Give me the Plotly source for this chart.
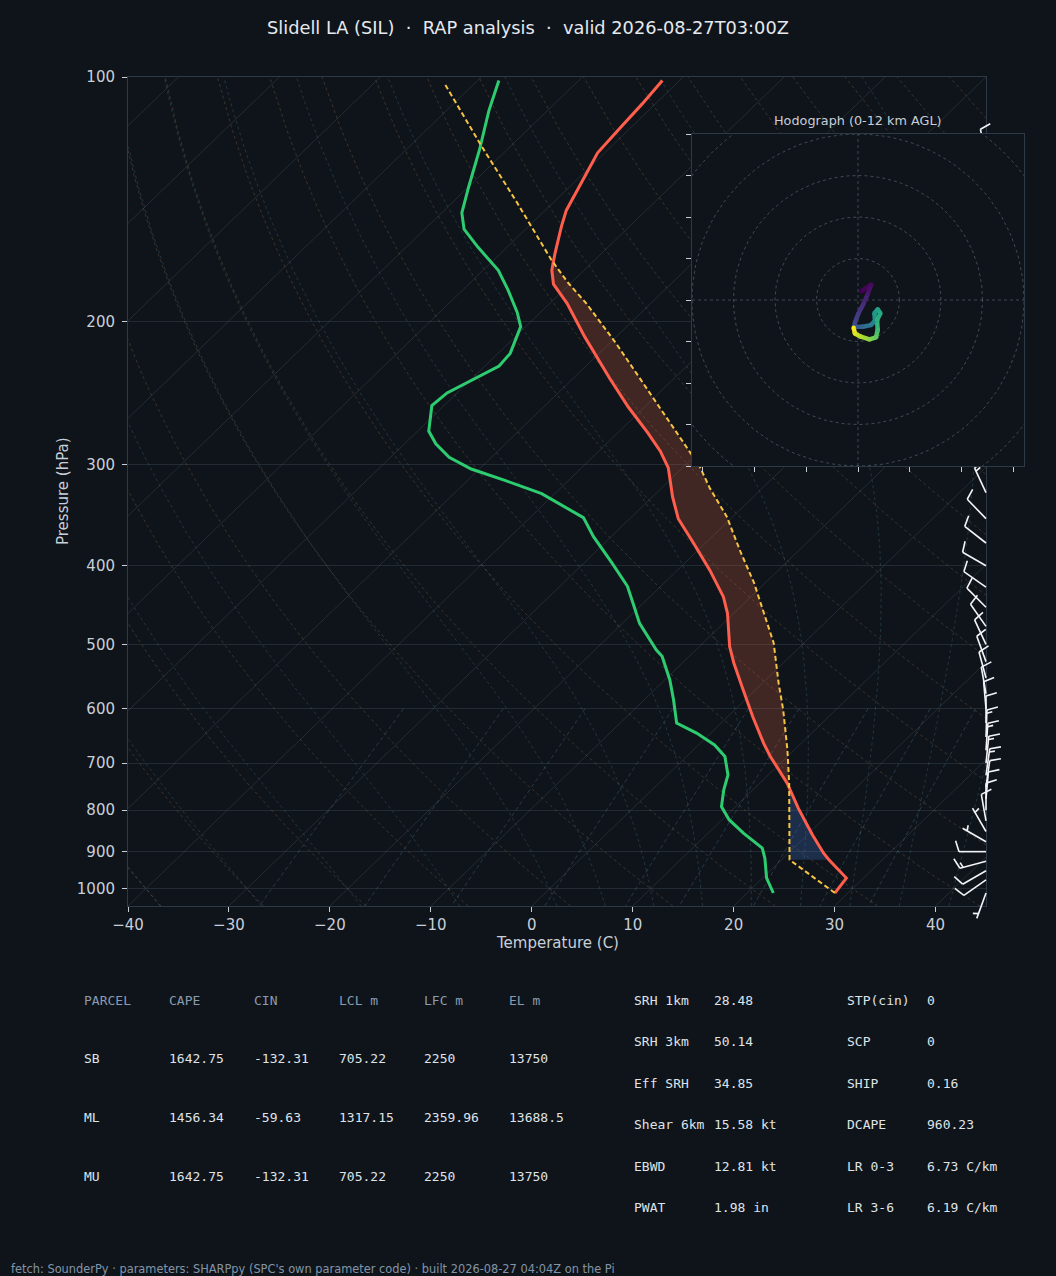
import numpy as np
import plotly.graph_objects as go
from plotly.colors import sample_colorscale

# ---- sounding (hPa, degC) ----
t_p = [1012, 970, 921, 904, 858, 796, 741, 687, 662, 614, 569, 527, 503, 458, 437, 405, 375, 350,
       329, 303, 289, 274, 255, 235, 209, 190, 180, 173, 165, 153, 146, 137, 124, 116, 108, 101]
t_c = [28.7, 28.3, 24.7, 23.5, 20.5, 16.4, 12.7, 8.3, 6.3, 2.5, -1.2, -4.9, -7.0, -10.6, -12.7, -16.8,
       -21.2, -25.2, -28.0, -31.4, -33.9, -37.1, -41.6, -46.4, -53.1, -58.3, -61.6, -63.2, -64.6,
       -66.7, -67.9, -69.0, -70.7, -71.0, -71.3, -71.7]

td_p = [1012, 970, 917, 891, 854, 822, 792, 755, 724, 687, 665, 643, 625, 585, 553, 517, 508, 471,
        445, 424, 397, 368, 349, 326, 314, 304, 294, 283, 273, 254, 245, 236, 227, 219, 203, 195,
        183, 173, 162, 154, 147, 137, 123, 110, 101]
td_c = [22.6, 20.4, 18.2, 16.9, 13.5, 10.7, 8.6, 7.1, 6.0, 3.8, 1.6, -1.4, -4.4, -7.1, -9.5, -12.7,
        -13.9, -18.3, -21.0, -23.3, -27.2, -31.8, -34.7, -41.3, -46.3, -50.8, -54.2, -56.9, -58.9,
        -61.2, -61.0, -59.9, -58.6, -58.8, -60.5, -62.3, -65.5, -68.5, -72.9, -76.1, -78.0, -79.9,
        -82.7, -85.8, -87.9]

pcl_p = [1012, 921, 741, 674, 602, 558, 498, 441, 420, 384, 348, 321, 302, 270, 241, 213, 190, 179,
         168, 143, 121, 102]
pcl_c = [28.7, 20.8, 12.9, 9.3, 4.8, 1.6, -3.0, -8.8, -11.1, -15.7, -20.6, -25.2, -28.4, -35.1,
         -41.9, -49.3, -56.4, -60.4, -64.3, -73.5, -83.2, -92.9]

lcl_p, lfc_p, el_p = 921, 741, 168

# wind barbs on the right edge (hPa, deg, kt)
barb_p = [1012, 975, 950, 925, 900, 875, 850, 825, 800, 775, 750, 725, 700, 675, 650, 625, 600,
          575, 550, 525, 500, 475, 450, 425, 400, 375, 350, 325, 300, 275, 250, 225, 200, 175, 150, 125]
barb_dir = [200, 235, 240, 255, 270, 300, 330, 350, 0, 5, 8, 8, 6, 4, 2, 0, 355, 350, 345, 340,
            335, 325, 315, 305, 300, 308, 316, 335, 340, 345, 350, 355, 0, 5, 355, 348]
barb_spd = [5, 10, 10, 15, 10, 5, 5, 10, 10, 10, 12, 15, 15, 15, 15, 10, 10, 10, 10, 10, 10, 10,
            10, 10, 10, 10, 10, 15, 20, 20, 20, 18, 15, 12, 10, 10]

# hodograph 0-12 km (km AGL, kt)
hodo_z = [0, 0.3, 0.8, 1.5, 2.0, 2.5, 3.0, 4.0, 5.0, 5.8, 6.4, 6.8, 7.2, 7.6, 8.2, 9.0, 9.8, 10.6, 11.4, 12.0]
hodo_u = [1.6, 6.4, 4.8, 2.6, 0.1, -1.5, -1.8, 2.2, 6.2, 8.2, 7.9, 9.5, 10.8, 9.2, 9.5, 8.7, 5.5, 1.4, -1.5, -2.1]
hodo_v = [4.2, 7.5, 3.1, -1.9, -6.7, -10.9, -12.9, -12.9, -12.1, -10.0, -6.4, -4.5, -6.4, -9.6,
          -14.5, -18.0, -19.0, -17.7, -16.1, -13.4]

# parameter tables
parcel_cols = ["PARCEL", "CAPE", "CIN", "LCL m", "LFC m", "EL m"]
parcel_rows = [["SB", "1642.75", "-132.31", "705.22", "2250", "13750"],
               ["ML", "1456.34", "-59.63", "1317.15", "2359.96", "13688.5"],
               ["MU", "1642.75", "-132.31", "705.22", "2250", "13750"]]
kin_names = ["SRH 1km", "SRH 3km", "Eff SRH", "Shear 6km", "EBWD", "PWAT"]
kin_vals = ["28.48", "50.14", "34.85", "15.58 kt", "12.81 kt", "1.98 in"]
comp_names = ["STP(cin)", "SCP", "SHIP", "DCAPE", "LR 0-3", "LR 3-6"]
comp_vals = ["0", "0", "0.16", "960.23", "6.73 C/km", "6.19 C/km"]

title = "Slidell LA (SIL) \u00a0·\u00a0 RAP analysis \u00a0·\u00a0 valid 2026-08-27T03:00Z"
footer = ("fetch: SounderPy · parameters: SHARPpy (SPC's own parameter code) · "
          "built 2026-08-27 04:04Z on the Pi")

# ---- page geometry ----
W, H = 1056, 1276
BG = "#0f141a"
TXT = "#c8cfd8"
SPINE = "#2e3947"
P_BOT, P_TOP = 1050.0, 100.0
T_MIN, T_MAX = -40.0, 45.0
main_px = (128, 986, 77, 906)          # left, right, top, bottom
PX_DEC = (main_px[3] - main_px[2]) / np.log10(P_BOT / P_TOP)


def fx(px):
    return px / W


def fy(py):
    return 1 - py / H


def skew(t, p):
    t = np.asarray(t, float)
    p = np.asarray(p, float)
    return t + (T_MAX - T_MIN) * np.tan(np.radians(45)) * np.log10(P_BOT / p) / np.log10(P_BOT / P_TOP)


def join(lines):
    xs, ys = [], []
    for x, y in lines:
        xs += list(x) + [None]
        ys += list(y) + [None]
    return xs, ys


fig = go.Figure()

# isotherms
iso = [(skew([t, t], [P_BOT, P_TOP]), [P_BOT, P_TOP]) for t in range(-120, 41, 10)]
x, y = join(iso)
fig.add_trace(go.Scatter(x=x, y=y, mode="lines", line=dict(color="rgba(150,165,185,0.16)", width=1),
                         hoverinfo="skip"))

# dry adiabats
pp = np.linspace(P_BOT, P_TOP, 60)
dry = []
for t0 in range(-40, 246, 10):
    t = (t0 + 273.15) * (pp / 1000.0) ** 0.2857 - 273.15
    dry.append((skew(t, pp), pp))
x, y = join(dry)
fig.add_trace(go.Scatter(x=x, y=y, mode="lines",
                         line=dict(color="rgba(190,140,90,0.26)", width=1, dash="3px,3px"),
                         hoverinfo="skip"))


# moist adiabats (pseudo-adiabatic lapse, RK4 in ln p)
def dT(T, p):
    es = 6.112 * np.exp(17.67 * (T - 273.15) / (T - 29.65))
    rs = 0.622 * es / (p - es)
    return (287.04 * T + 2.501e6 * rs) / (1005.7 + 2.501e6 ** 2 * rs * 0.622 / (287.04 * T ** 2))


def moist(t0, p_end, n=140):
    lnp = np.linspace(np.log(1000.0), np.log(p_end), n)
    T = t0 + 273.15
    out = [T]
    for a, b in zip(lnp[:-1], lnp[1:]):
        h = b - a
        pa, pm, pb = np.exp(a), np.exp(a + h / 2), np.exp(b)
        k1 = dT(T, pa)
        k2 = dT(T + h * k1 / 2, pm)
        k3 = dT(T + h * k2 / 2, pm)
        k4 = dT(T + h * k3, pb)
        T = T + h * (k1 + 2 * k2 + 2 * k3 + k4) / 6
        out.append(T)
    return np.exp(lnp), np.array(out) - 273.15


wet = []
for t0 in list(range(-40, 0, 10)) + list(range(0, 46, 5)):
    p_up, t_up = moist(t0, P_TOP)
    p_dn, t_dn = moist(t0, P_BOT, 8)
    p_all = np.concatenate([p_dn[::-1], p_up[1:]])
    t_all = np.concatenate([t_dn[::-1], t_up[1:]])
    wet.append((skew(t_all, p_all), p_all))
x, y = join(wet)
fig.add_trace(go.Scatter(x=x, y=y, mode="lines",
                         line=dict(color="rgba(90,160,175,0.24)", width=1, dash="3px,3px"),
                         hoverinfo="skip"))

# mixing ratio lines
pm = np.linspace(600, P_BOT, 30)
mix = []
for w in [0.0004, 0.001, 0.002, 0.004, 0.007, 0.01, 0.016, 0.024, 0.032]:
    e = pm * w / (0.622 + w)
    g = np.log(e / 6.112)
    td = 243.5 * g / (17.67 - g)
    mix.append((skew(td, pm), pm))
x, y = join(mix)
fig.add_trace(go.Scatter(x=x, y=y, mode="lines",
                         line=dict(color="rgba(100,150,195,0.28)", width=1, dash="4px,3px"),
                         hoverinfo="skip"))

# CAPE / CIN shading
tp, tc = np.array(t_p), np.array(t_c)
pp_, pc_ = np.array(pcl_p), np.array(pcl_c)
m_p = (pp_ <= lfc_p) & (pp_ >= el_p)
m_e = (tp <= lfc_p) & (tp >= el_p)
cape_x = list(skew(pc_[m_p], pp_[m_p])) + list(skew(tc[m_e], tp[m_e])[::-1])
cape_y = list(pp_[m_p]) + list(tp[m_e][::-1])
fig.add_trace(go.Scatter(x=cape_x, y=cape_y, mode="lines", fill="toself", line=dict(width=0),
                         fillcolor="rgba(240,110,70,0.22)", hoverinfo="skip"))
m_p = (pp_ <= lcl_p) & (pp_ >= lfc_p)
m_e = (tp <= lcl_p) & (tp >= lfc_p)
cin_x = list(skew(pc_[m_p], pp_[m_p])) + list(skew(tc[m_e], tp[m_e])[::-1])
cin_y = list(pp_[m_p]) + list(tp[m_e][::-1])
fig.add_trace(go.Scatter(x=cin_x, y=cin_y, mode="lines", fill="toself", line=dict(width=0),
                         fillcolor="rgba(70,130,230,0.24)", hoverinfo="skip"))

# profiles
fig.add_trace(go.Scatter(x=skew(t_c, t_p), y=t_p, mode="lines", line=dict(color="#ff5e4d", width=3)))
fig.add_trace(go.Scatter(x=skew(td_c, td_p), y=td_p, mode="lines", line=dict(color="#2ecc71", width=3)))
fig.add_trace(go.Scatter(x=skew(pcl_c, pcl_p), y=pcl_p, mode="lines",
                         line=dict(color="#f6c343", width=2, dash="5px,3px")))


# ---- wind barbs (matplotlib-style geometry, pixel offsets) ----
def barb_segments(spd, wdir, length=27.0):
    spd = 5 * round(spd / 5)
    n_flag, rest = divmod(spd, 50)
    n_full, rest = divmod(rest, 10)
    half = rest >= 5
    spacing, height, width = 0.125 * length, 0.4 * length, 0.25 * length
    segs = [[(0.0, 0.0), (0.0, length)]]
    off = length
    for _ in range(int(n_flag)):
        if off != length:
            off += spacing / 2
        segs.append([(0, off), (height, off - width / 2), (0, off - width)])
        off -= width + spacing
    for _ in range(int(n_full)):
        segs.append([(0, off), (height, off + width / 2)])
        off -= spacing
    if half:
        if off == length:
            off -= 1.5 * spacing
        segs.append([(0, off), (height / 2, off + width / 4)])
    u = -np.sin(np.radians(wdir))
    v = -np.cos(np.radians(wdir))
    th = np.arctan2(v, u) + np.pi / 2
    c, s = np.cos(th), np.sin(th)
    return [[(a * c - b * s, a * s + b * c) for a, b in seg] for seg in segs]


bx, by = [], []
for p, d, s in zip(barb_p, barb_dir, barb_spd):
    for seg in barb_segments(s, d):
        bx += [a for a, b in seg] + [None]
        by += [p * 10 ** (-b / PX_DEC) for a, b in seg] + [None]
fig.add_trace(go.Scatter(x=bx, y=by, mode="lines", line=dict(color="#f2f4f7", width=1.6),
                         xaxis="x2", yaxis="y2", hoverinfo="skip"))

# ---- hodograph ----
R = 80
ring = np.linspace(0, 2 * np.pi, 181)
rings = [(r * np.cos(ring), r * np.sin(ring)) for r in range(20, 121, 20)]
rings += [([-R, R], [0, 0]), ([0, 0], [-R, R])]
x, y = join(rings)
fig.add_trace(go.Scatter(x=x, y=y, mode="lines",
                         line=dict(color="rgba(130,145,165,0.42)", width=1, dash="3px,3px"),
                         xaxis="x3", yaxis="y3", hoverinfo="skip"))
frac = [z / 12.0 for z in hodo_z]
for i in range(len(hodo_u) - 1):
    col = sample_colorscale("Viridis", (frac[i] + frac[i + 1]) / 2)[0]
    fig.add_trace(go.Scatter(x=hodo_u[i:i + 2], y=hodo_v[i:i + 2], mode="lines",
                             line=dict(color=col, width=4.5), xaxis="x3", yaxis="y3"))
fig.add_trace(go.Scatter(x=hodo_u, y=hodo_v, mode="markers", xaxis="x3", yaxis="y3",
                         marker=dict(size=4.5, color=frac, colorscale="Viridis", cmin=0, cmax=1)))

# ---- axes ----
ax_common = dict(showline=True, mirror=True, linecolor=SPINE, linewidth=1, zeroline=False,
                 ticks="outside", ticklen=5, tickcolor=TXT, tickwidth=1, automargin=False,
                 tickfont=dict(family="DejaVu Sans", size=15, color=TXT))
hodo_ax = dict(showticklabels=False, showgrid=False, showline=True, mirror=True, linecolor=SPINE,
               zeroline=False, ticks="outside", ticklen=5, tickcolor=TXT, automargin=False)
fig.update_layout(
    width=W, height=H, margin=dict(l=0, r=0, t=0, b=0, pad=0, autoexpand=False),
    paper_bgcolor=BG, plot_bgcolor="rgba(0,0,0,0)", showlegend=False,
    xaxis=dict(domain=[fx(main_px[0]), fx(main_px[1])], range=[T_MIN, T_MAX],
               tickvals=list(range(-40, 41, 10)), showgrid=False, **ax_common),
    yaxis=dict(domain=[fy(main_px[3]), fy(main_px[2])], type="log",
               range=[np.log10(P_BOT), np.log10(P_TOP)],
               tickvals=list(range(100, 1001, 100)), ticktext=[str(v) for v in range(100, 1001, 100)],
               showgrid=True, gridcolor="#222a34", gridwidth=1, ticklabelstandoff=4, **ax_common),
    xaxis2=dict(domain=[fx(930), fx(1016)], range=[930 - main_px[1], 1016 - main_px[1]],
                visible=False, anchor="y2", automargin=False),
    yaxis2=dict(domain=[fy(935), fy(60)], type="log",
                range=[np.log10(P_BOT) + (935 - main_px[3]) / PX_DEC, 2 - (main_px[2] - 60) / PX_DEC],
                visible=False, anchor="x2", automargin=False),
    xaxis3=dict(domain=[fx(692), fx(1024)], range=[-R, R], anchor="y3",
                tickvals=[-75, -50, -25, 0, 25, 50, 75], **hodo_ax),
    yaxis3=dict(domain=[fy(466), fy(134)], range=[-R, R], anchor="x3",
                tickvals=list(range(-80, 81, 20)), **hodo_ax),
    shapes=[dict(type="rect", xref="x3", yref="y3", x0=-R, x1=R, y0=-R, y1=R,
                 fillcolor=BG, line=dict(width=0), layer="below")],
)

# ---- text ----
ann = []


def text(s, px, py, size=13, color=TXT, family="DejaVu Sans", xanchor="left", angle=0):
    ann.append(dict(text=s, x=fx(px), y=fy(py), xref="paper", yref="paper", showarrow=False,
                    xanchor=xanchor, yanchor="middle", textangle=angle,
                    font=dict(family=family, size=size, color=color)))


text(title, 528, 27, size=17.8, color="#e6e9ee", xanchor="center")
text("Pressure (hPa)", 63, 491, size=15, xanchor="center", angle=-90)
text("Temperature (C)", 557, 943, size=15, xanchor="center")
text("Hodograph (0-12 km AGL)", 858, 120, size=12.8, xanchor="center")

MONO = "DejaVu Sans Mono"
col_x = [82, 167, 252, 337, 422, 507]
for cx, name in zip(col_x, parcel_cols):
    text(name, cx, 1000, family=MONO, color="#8a9bb0")
for ry, row in zip([1058, 1117, 1176], parcel_rows):
    for cx, val in zip(col_x, row):
        text(val, cx, ry, family=MONO, color="#dfe3e8")
rows_y = [1000, 1041, 1083, 1124, 1166, 1207]
for ry, n, v in zip(rows_y, kin_names, kin_vals):
    text(n, 632, ry, family=MONO, color="#dfe3e8")
    text(v, 712, ry, family=MONO, color="#dfe3e8")
for ry, n, v in zip(rows_y, comp_names, comp_vals):
    text(n, 845, ry, family=MONO, color="#dfe3e8")
    text(v, 925, ry, family=MONO, color="#dfe3e8")
text(footer, 9, 1269, size=11.4, color="#8494a7")

fig.update_layout(annotations=ann)
# the page body has a default margin; drop it so the figure fills the window exactly
fig.write_html("out.html", config={"displayModeBar": False},
               post_script="document.body.style.margin='0';")
